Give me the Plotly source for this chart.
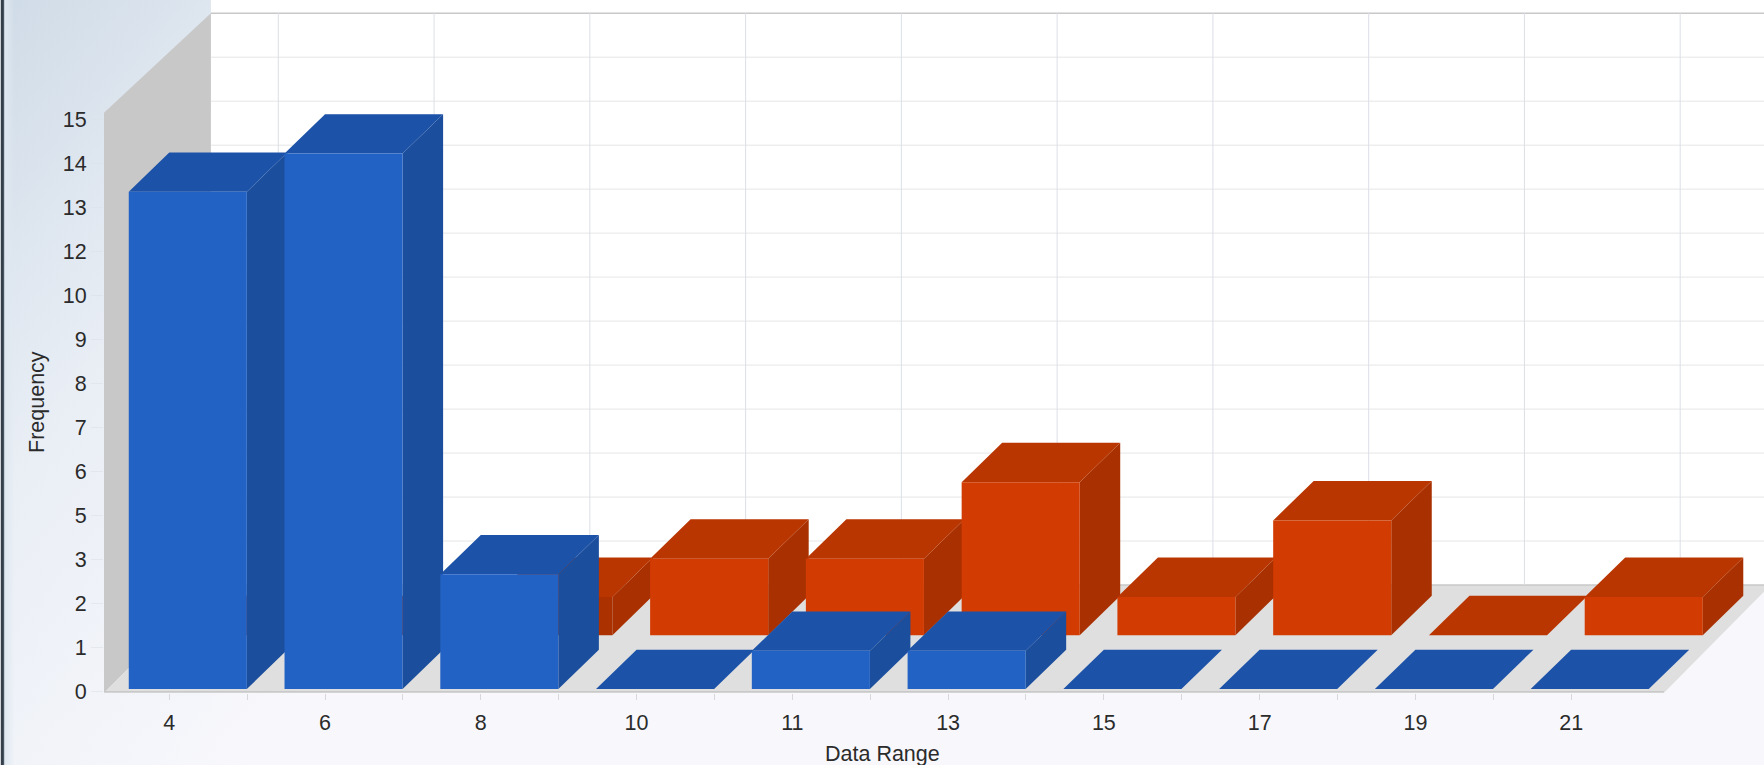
import base64
import plotly.graph_objects as go

# Category labels and frequencies for each series
categories = ["4", "6", "8", "10", "11", "13", "15", "17", "19", "21"]
blue_values = [13, 14, 3, 0, 1, 1, 0, 0, 0, 0]
red_values = [0, 0, 1, 2, 2, 4, 1, 3, 0, 1]
frequency_labels = ["0", "1", "2", "3", "5", "6", "7", "8", "9", "10", "12", "13", "14", "15"]
frequency_step = 1.15

# Pseudo-3D geometry, in axis units
BAR_LEFT = -0.26
BAR_WIDTH = 0.758
BAR_DX = 0.26
BAR_DY = 1.03
RED_SHIFT_X = 0.347
RED_LIFT = 1.41
WALL_FRONT_X = -0.419
WALL_BACK_X = 0.267
FLOOR_FRONT_Y = -0.103
FLOOR_BACK_Y = 2.72
X_MAX = 10.238
Y_MAX = 18.015
FLOOR_RIGHT = 9.595

WIDTH, HEIGHT = 1764, 765
M_L, M_B = 103.5, 72


def polygons(values, x0, lift, face):
    """Closed outlines for the top or right face of each bar, None-separated."""
    xs, ys = [], []
    for i, v in enumerate(values):
        left = i + x0
        right = left + BAR_WIDTH
        top = lift + v
        if face == "top":
            xs += [left, right, right + BAR_DX, left + BAR_DX, left, None]
            ys += [top, top, top + BAR_DY, top + BAR_DY, top, None]
        else:
            xs += [right, right + BAR_DX, right + BAR_DX, right, right, None]
            ys += [lift, lift + BAR_DY, top + BAR_DY, top, lift, None]
    return xs, ys


def add_series(fig, name, values, x0, lift, front, top, side, z):
    for face, colour, order in (("side", side, z), ("top", top, z + 1)):
        xs, ys = polygons(values, x0, lift, face)
        fig.add_trace(go.Scatter(x=xs, y=ys, mode="lines", fill="toself", fillcolor=colour,
                                 line=dict(width=0), hoverinfo="skip",
                                 showlegend=False, zorder=order))
    fig.add_trace(go.Bar(x=[i + x0 + BAR_WIDTH / 2 for i in range(len(values))], y=values,
                         base=lift, width=BAR_WIDTH, name=name, showlegend=False,
                         marker=dict(color=front, line=dict(width=0)), zorder=z + 2))


# The third red bar stands in the shadow of the blue one beside it
red_fronts = ["#d23c02"] * len(red_values)
red_fronts[2] = "#ab3100"

fig = go.Figure()
add_series(fig, "Series 2", red_values, BAR_LEFT + RED_SHIFT_X, RED_LIFT,
           red_fronts, "#b93600", "#a93000", 1)
add_series(fig, "Series 1", blue_values, BAR_LEFT, 0,
           "#2262c4", "#1c52a8", "#1b4e9c", 4)

# Back wall, side wall, floor and grid
shapes = [
    dict(type="rect", x0=WALL_BACK_X, x1=X_MAX, y0=FLOOR_BACK_Y, y1=Y_MAX,
         fillcolor="#ffffff", line_width=0),
    dict(type="path", fillcolor="#c8c8c8", line_width=0,
         path=f"M{WALL_FRONT_X},{FLOOR_FRONT_Y} L{WALL_FRONT_X},{15.07} "
              f"L{WALL_BACK_X},{FLOOR_BACK_Y + 13 * frequency_step} L{WALL_BACK_X},{FLOOR_BACK_Y} Z"),
    dict(type="path", fillcolor="#dfdfdf", line_width=0,
         path=f"M{WALL_FRONT_X},{FLOOR_FRONT_Y} L{FLOOR_RIGHT},{FLOOR_FRONT_Y} "
              f"L{FLOOR_RIGHT + 0.686},{FLOOR_BACK_Y} L{WALL_BACK_X},{FLOOR_BACK_Y} Z"),
    dict(type="line", x0=WALL_FRONT_X, x1=FLOOR_RIGHT, y0=FLOOR_FRONT_Y + 0.03, y1=FLOOR_FRONT_Y + 0.03,
         line=dict(color="#c9c9c9", width=1.5)),
]
for i in range(len(frequency_labels)):
    level = FLOOR_BACK_Y + i * frequency_step
    edge = i in (0, 13)
    shapes.append(dict(type="line", x0=WALL_BACK_X, x1=X_MAX, y0=level, y1=level,
                       line=dict(color="#c8c8c8" if edge else "#e6e6e6", width=1.5 if edge else 1)))
for i in range(len(categories)):
    shapes.append(dict(type="line", x0=i + 0.70, x1=i + 0.70, y0=FLOOR_BACK_Y,
                       y1=FLOOR_BACK_Y + 13 * frequency_step,
                       line=dict(color="#dcdfe6", width=1)))
for s in shapes:
    s.update(xref="x", yref="y", layer="below")

# Page background: soft diagonal wash plus the dark strip on the left edge
svg = f"""<svg xmlns='http://www.w3.org/2000/svg' width='{WIDTH}' height='{HEIGHT}'>
<defs><linearGradient id='g' gradientUnits='userSpaceOnUse' x1='0' y1='0' x2='520' y2='420'>
<stop offset='0' stop-color='#cfdbe7'/><stop offset='0.45' stop-color='#e9eef5'/>
<stop offset='1' stop-color='#f8f8fc'/></linearGradient>
<linearGradient id='e' x1='0' y1='0' x2='1' y2='0'>
<stop offset='0' stop-color='#33404c'/><stop offset='0.2' stop-color='#33404c'/>
<stop offset='0.3' stop-color='#dfe8f0'/><stop offset='1' stop-color='#dfe8f0' stop-opacity='0'/></linearGradient></defs>
<rect width='{WIDTH}' height='{HEIGHT}' fill='url(#g)'/>
<rect width='14' height='{HEIGHT}' fill='url(#e)'/></svg>"""
background = "data:image/svg+xml;base64," + base64.b64encode(svg.encode()).decode()
plot_w, plot_h = WIDTH - M_L, HEIGHT - M_B
images = [dict(source=background, xref="paper", yref="paper", layer="below",
               x=-M_L / plot_w, y=1, sizex=WIDTH / plot_w, sizey=HEIGHT / plot_h,
               xanchor="left", yanchor="top", sizing="stretch")]

# Ticks on the category axis sit at every half step; only whole steps are labelled
x_ticks, x_text = [], []
for i, label in enumerate(categories):
    x_ticks.append(i)
    x_text.append(label)
    if i < len(categories) - 1:
        x_ticks.append(i + 0.5)
        x_text.append("")

TEXT = dict(family="Liberation Sans", size=21.5, color="#2b2b2b")
fig.update_layout(
    width=WIDTH, height=HEIGHT, autosize=False,
    margin=dict(l=M_L, r=0, t=0, b=M_B, pad=0),
    paper_bgcolor="rgba(0,0,0,0)", plot_bgcolor="rgba(0,0,0,0)",
    shapes=shapes, images=images, barmode="overlay", font=TEXT,
    xaxis=dict(range=[WALL_FRONT_X, X_MAX], tickmode="array", tickvals=x_ticks, ticktext=x_text,
               ticks="outside", ticklen=6, tickcolor="#d8d8d8", showgrid=False, zeroline=False,
               showline=False, tickfont=TEXT, ticklabelstandoff=4),
    yaxis=dict(range=[FLOOR_FRONT_Y, Y_MAX], tickmode="array",
               tickvals=[i * frequency_step - 0.07 for i in range(len(frequency_labels))],
               ticktext=frequency_labels, ticks="outside", ticklen=12, tickcolor="rgba(220,225,232,0.6)",
               showgrid=False, zeroline=False, showline=False, tickfont=TEXT),
    annotations=[
        dict(text="Data Range", xref="x", yref="paper", x=4.578, y=-0.088, showarrow=False,
             font=TEXT, xanchor="center", yanchor="middle"),
        dict(text="Frequency", xref="paper", yref="y", x=-0.0405, y=7.5, showarrow=False,
             font=TEXT, textangle=-90, xanchor="center", yanchor="middle"),
    ],
)
fig.write_html("out.html")
